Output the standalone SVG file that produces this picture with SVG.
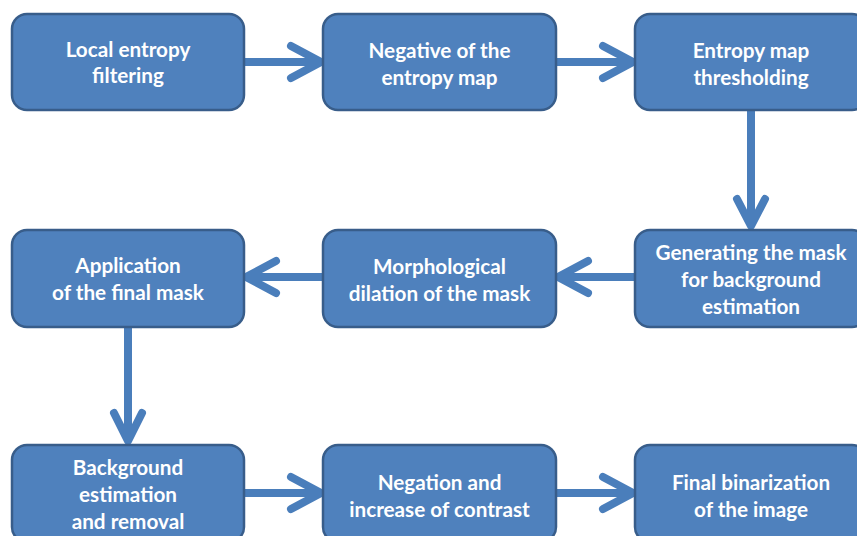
<svg xmlns="http://www.w3.org/2000/svg" width="857" height="536" viewBox="0 0 857 536">
<style>
.box{fill:#4f81bd;stroke:#385d8a;stroke-width:2.5}
.t{fill:#fff;font-family:Lato,"Open Sans","Liberation Sans",sans-serif;font-weight:bold;font-size:20.7px;text-anchor:middle}
.c{fill:none;stroke:#4a7ebb;stroke-width:8;stroke-linecap:round;stroke-linejoin:round}
</style>
<rect width="857" height="536" fill="#fff"/>
<g id="connectors">
<path class="c" d="M245 62H318M291 46L321 62L291 78"/>
<path class="c" d="M557 62H630M603 46L633 62L603 78"/>
<path class="c" d="M751 111V223M737 199L751 226L765 199"/>
<path class="c" d="M634 277H561M588 261L558 277L588 293"/>
<path class="c" d="M322 277H249M276 261L246 277L276 293"/>
<path class="c" d="M128 328V439M114 413L128 441L142 413"/>
<path class="c" d="M245 493H318M291 477L321 493L291 509"/>
<path class="c" d="M557 493H630M603 477L633 493L603 509"/>
</g>
<g id="n1"><rect class="box" x="12" y="14" width="232" height="96" rx="15"/><text class="t" x="128" y="56.5">Local entropy</text><text class="t" x="128" y="82.5">filtering</text></g>
<g id="n2"><rect class="box" x="323" y="14" width="233" height="96" rx="15"/><text class="t" x="439.5" y="57.5">Negative of the</text><text class="t" x="439.5" y="84.5">entropy map</text></g>
<g id="n3"><rect class="box" x="635" y="14" width="232" height="96" rx="15"/><text class="t" x="751" y="57.5">Entropy map</text><text class="t" x="751" y="84.5">thresholding</text></g>
<g id="n4"><rect class="box" x="635" y="230" width="232" height="97" rx="15"/><text class="t" x="751" y="259.5">Generating the mask</text><text class="t" x="751" y="286.5">for background</text><text class="t" x="751" y="313.5">estimation</text></g>
<g id="n5"><rect class="box" x="323" y="230" width="233" height="97" rx="15"/><text class="t" x="439.5" y="273.5">Morphological</text><text class="t" x="439.5" y="300.5">dilation of the mask</text></g>
<g id="n6"><rect class="box" x="12" y="230" width="232" height="97" rx="15"/><text class="t" x="128" y="272.5">Application</text><text class="t" x="128" y="299.5">of the final mask</text></g>
<g id="n7"><rect class="box" x="12" y="445" width="232" height="97" rx="15"/><text class="t" x="128" y="474.5">Background</text><text class="t" x="128" y="501.5">estimation</text><text class="t" x="128" y="528.5">and removal</text></g>
<g id="n8"><rect class="box" x="323" y="445" width="233" height="97" rx="15"/><text class="t" x="439.5" y="489.5">Negation and</text><text class="t" x="439.5" y="516.5">increase of contrast</text></g>
<g id="n9"><rect class="box" x="635" y="445" width="232" height="97" rx="15"/><text class="t" x="751" y="489.5">Final binarization</text><text class="t" x="751" y="516.5">of the image</text></g>
</svg>
